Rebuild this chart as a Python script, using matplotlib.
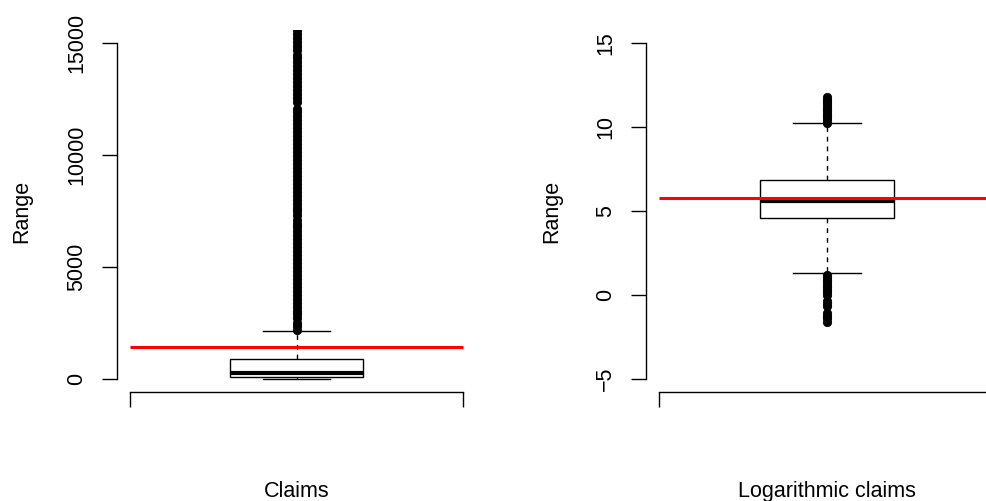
import matplotlib
matplotlib.use('Agg')
import matplotlib.pyplot as plt

plt.rcParams['font.family'] = ['Liberation Sans', 'DejaVu Sans']

# ---------------- data ----------------
panel_titles = ['Claims', 'Logarithmic claims']
y_label = 'Range'

claims_stats = dict(whislo=0, q1=72, med=246, q3=894, whishi=2160)
claims_mean = 1440
claims_fliers = [2190, 2350, 2520, 2700, 2880, 3050, 3230, 3400, 3580, 3760,
                 3930, 4110, 4290, 4460, 4640, 4820, 5000, 5170, 5350, 5530,
                 5700, 5880, 6060, 6240, 6410, 6590, 6770, 6940, 7120, 7300,
                 7480, 7650, 7830, 8010, 8180, 8360, 8540, 8720, 8890, 9070,
                 9250, 9420, 9600, 9780, 9960, 10130, 10310, 10490, 10660,
                 10840, 11020, 11200, 11370, 11550, 11730, 11900, 12070,
                 12370, 12550, 12730, 12900, 13080, 13260, 13440, 13610,
                 13790, 13970, 14140, 14320, 14480, 14700, 14880, 15050,
                 15230, 15410, 15590, 15780]
claims_ticks = [0, 5000, 10000, 15000]
claims_ticklabels = ['0', '5000', '10000', '15000']
claims_ylim = (0, 15000)

log_stats = dict(whislo=1.29, q1=4.58, med=5.62, q3=6.85, whishi=10.22)
log_mean = 5.76
log_fliers = [10.25, 10.38, 10.52, 10.66, 10.8, 10.94, 11.08, 11.22, 11.36,
              11.5, 11.63, 11.77,
              1.2, 1.05, 0.9, 0.75, 0.6, 0.45, 0.3, 0.15, 0.02,
              -0.36, -0.5, -0.64,
              -1.08, -1.24, -1.4, -1.58]
log_ticks = [-5, 0, 5, 10, 15]
log_ticklabels = ['\u22125', '0', '5', '10', '15']
log_ylim = (-5, 15)

# ---------------- layout ----------------
W, H = 986, 501
fig = plt.figure(figsize=(W / 100, H / 100), dpi=100)
ax_bottom_px, ax_top_px = 392.4, 29.6
panels = [
    dict(left=117, width=359, stats=claims_stats, mean=claims_mean,
         fliers=claims_fliers, ticks=claims_ticks,
         ticklabels=claims_ticklabels, ylim=claims_ylim,
         title=panel_titles[0], ylab_x=22),
    dict(left=646, width=362, stats=log_stats, mean=log_mean,
         fliers=log_fliers, ticks=log_ticks,
         ticklabels=log_ticklabels, ylim=log_ylim,
         title=panel_titles[1], ylab_x=552),
]

FS = 15.5
for p in panels:
    ax = fig.add_axes([p['left'] / W, (H - ax_bottom_px) / H,
                       p['width'] / W, (ax_bottom_px - ax_top_px) / H])
    lo, hi = p['ylim']
    ext = 0.04 * (hi - lo)
    ax.set_ylim(lo - ext, hi + ext)
    ax.set_xlim(0.46, 1.54)

    st = dict(p['stats'])
    st['fliers'] = p['fliers']
    ax.bxp([st], positions=[1], widths=0.4, capwidths=0.2,
           showfliers=True, patch_artist=True, manage_ticks=False,
           boxprops=dict(facecolor='white', edgecolor='black', linewidth=1),
           medianprops=dict(color='black', linewidth=3,
                            solid_capstyle='butt'),
           whiskerprops=dict(color='black', linewidth=1,
                             linestyle=(0, (3.5, 3.5))),
           capprops=dict(color='black', linewidth=1),
           flierprops=dict(marker='o', markerfacecolor='black',
                           markeredgecolor='black', markersize=6.0,
                           markeredgewidth=0.6, linestyle='none'))
    ax.hlines(p['mean'], 0.5, 1.5, colors='red', linewidth=2.2, zorder=5)

    for s in ['top', 'right']:
        ax.spines[s].set_visible(False)
    ax.spines['left'].set_bounds(lo, hi)
    ax.spines['bottom'].set_bounds(0.5, 1.5)
    ax.spines['left'].set_linewidth(1)
    ax.spines['bottom'].set_linewidth(1)

    ax.set_yticks(p['ticks'])
    ax.set_yticklabels(p['ticklabels'], rotation=90, va='center',
                       fontsize=FS)
    ax.set_xticks([0.5, 1.5])
    ax.set_xticklabels(['', ''])
    ax.tick_params(axis='both', direction='out', length=10.5, width=1,
                   pad=11)

    ax.set_xlabel(p['title'], fontsize=FS)
    ax.xaxis.set_label_coords(0.5, (ax_bottom_px - 497) /
                              (ax_bottom_px - ax_top_px))
    ax.xaxis.label.set_va('baseline')

    ax.set_ylabel(y_label, fontsize=FS)
    ax.yaxis.set_label_coords((p['ylab_x'] - p['left']) / p['width'], 0.5)
    ax.yaxis.label.set_va('center')

fig.savefig('out.png', dpi=100)
